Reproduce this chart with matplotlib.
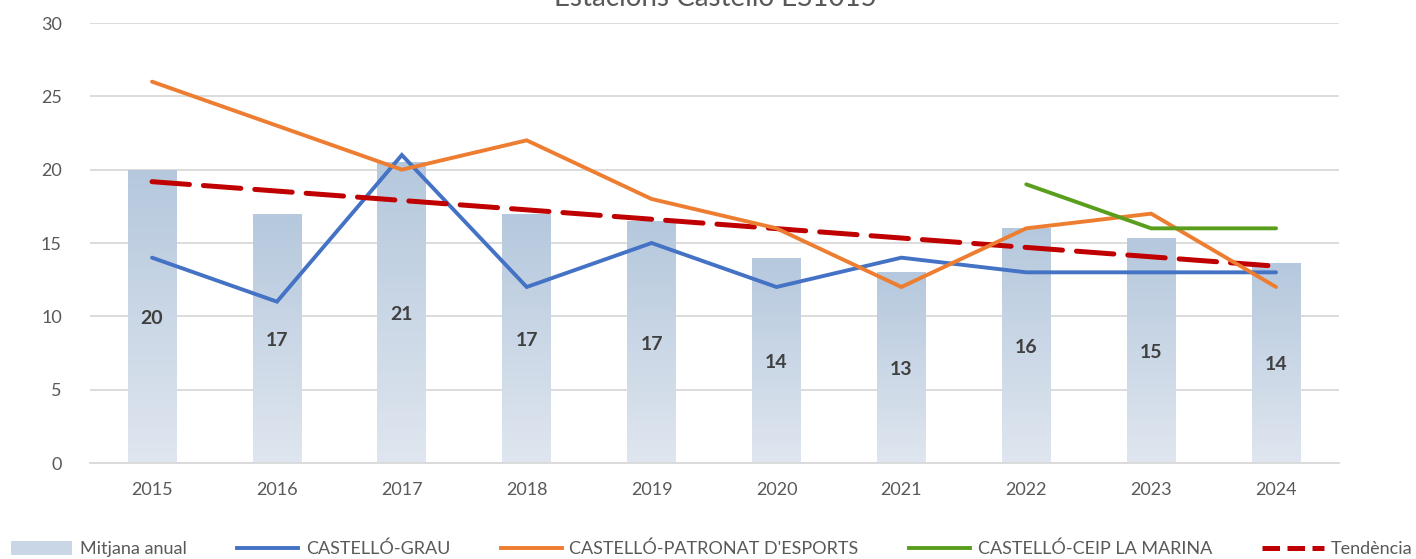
import numpy as np
import matplotlib
matplotlib.use("Agg")
import matplotlib.pyplot as plt
from matplotlib.colors import LinearSegmentedColormap
from matplotlib.patches import Patch
from matplotlib.lines import Line2D

plt.rcParams['font.family'] = ['Lato', 'DejaVu Sans']

years = ["2015", "2016", "2017", "2018", "2019", "2020", "2021", "2022", "2023", "2024"]
mitjana = [20, 17, 20.5, 17, 16.5, 14, 13, 16, 15.33, 13.67]
grau = [14, 11, 21, 12, 15, 12, 14, 13, 13, 13]
patronat = [26, 23, 20, 22, 18, 16, 12, 16, 17, 12]
marina = [np.nan, np.nan, np.nan, np.nan, np.nan, np.nan, np.nan, 19, 16, 16]
yticks = [0, 5, 10, 15, 20, 25, 30]
title = "Estacions Castelló ES1015"
legend_labels = ["Mitjana anual", "CASTELLÓ-GRAU", "CASTELLÓ-PATRONAT D'ESPORTS",
                 "CASTELLÓ-CEIP LA MARINA", "Tendència"]

W, H = 1416, 559
fig = plt.figure(figsize=(W / 100, H / 100), dpi=100)
ax = fig.add_axes([89.6 / W, 1 - 463 / H, (1338.5 - 89.6) / W, (463 - 23) / H])

x = np.arange(len(years))
cmap = LinearSegmentedColormap.from_list("g", ["#dfe6ef", "#b5c8dd"])
grad = np.linspace(0, 1, 256).reshape(-1, 1)
bw = 0.39
bars = ax.bar(x, mitjana, width=bw, color="none", edgecolor="none", zorder=1)
for b in bars:
    x0 = b.get_x()
    im = ax.imshow(grad, extent=[x0, x0 + b.get_width(), 0, b.get_height()],
                   origin="lower", aspect="auto", cmap=cmap, zorder=1)
    im.set_clip_path(b)

lw = 2.8
ax.plot(x, grau, color="#4472C4", lw=lw, zorder=3, solid_capstyle="round", solid_joinstyle="miter")
coef = np.polyfit(x, mitjana, 1)
trend = np.polyval(coef, x)
ax.plot(x, trend, color="#C00000", lw=3.6, dashes=(7.5, 2.8), zorder=4, dash_capstyle="round")
ax.plot(x, patronat, color="#ED7D31", lw=lw, zorder=5, solid_capstyle="round", solid_joinstyle="miter")
ax.plot(x, marina, color="#5A9E1E", lw=lw, zorder=6, solid_capstyle="round")

for xi, v in zip(x, mitjana):
    t = ax.text(xi, v / 2, f"{int(np.floor(v + 0.5))}", ha="center", va="center",
                fontsize=14, fontweight="bold", color="#404040", zorder=7)
    t.set_transform(ax.transData + matplotlib.transforms.ScaledTranslation(0, -2 / 100, fig.dpi_scale_trans))

ax.set_xlim(-0.5, len(years) - 0.5)
ax.set_ylim(0, 30)
ax.set_yticks(yticks)
ax.set_xticks(x)
ax.set_xticklabels(years)
ax.grid(axis="y", color="#d9d9d9", lw=1.3, zorder=0)
ax.set_axisbelow(True)
for s in ["top", "right", "left"]:
    ax.spines[s].set_visible(False)
ax.spines["bottom"].set_color("#d9d9d9")
ax.spines["bottom"].set_linewidth(1.3)
ax.tick_params(axis="both", length=0, labelsize=13, labelcolor="#595959")
ax.tick_params(axis="y", pad=20)
ax.tick_params(axis="x", pad=14)

fig.text(0.505, 1 - 6 / H, title, ha="center", va="baseline", fontsize=20, color="#595959")

handles = [Patch(facecolor="#c9d6e6", edgecolor="none"),
           Line2D([], [], color="#4472C4", lw=lw),
           Line2D([], [], color="#ED7D31", lw=lw),
           Line2D([], [], color="#5A9E1E", lw=lw),
           Line2D([], [], color="#C00000", lw=3.6, dashes=(3.5, 1.5))]
leg = fig.legend(handles, legend_labels, loc="center left", bbox_to_anchor=(11 / W, 1 - 549 / H),
                 ncol=5, frameon=False, fontsize=13, handlelength=3.4, handleheight=0.75,
                 handletextpad=0.4, columnspacing=2.8, borderpad=0, borderaxespad=0)
for t in leg.get_texts():
    t.set_color("#595959")

fig.savefig("out.png", dpi=100)
